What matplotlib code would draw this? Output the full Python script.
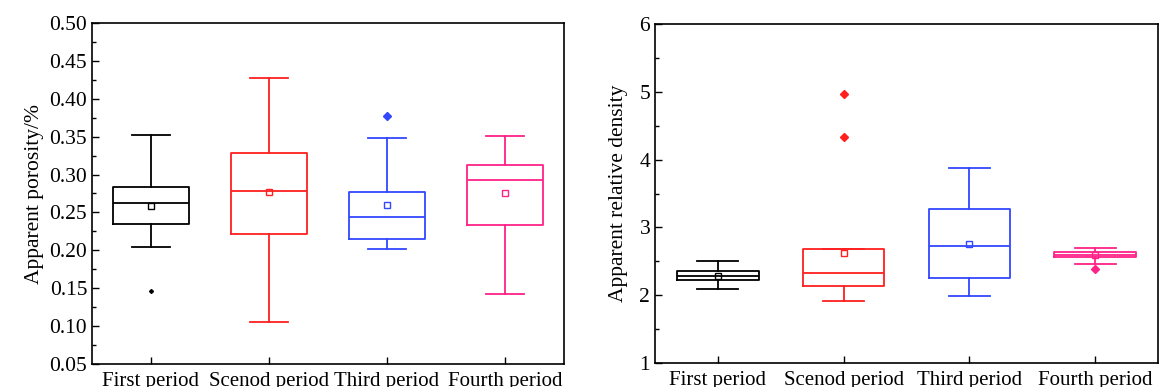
import matplotlib
matplotlib.use("Agg")
import matplotlib.pyplot as plt
from matplotlib.ticker import MultipleLocator

plt.rcParams['font.family'] = ['Liberation Serif', 'DejaVu Serif']

categories = ["First period", "Scenod period", "Third period", "Fourth period"]
colors = ["#000000", "#FF2020", "#3347FF", "#FF2288"]

# Apparent porosity: whislo, q1, median, q3, whishi, mean, outliers
por_whislo = [0.205, 0.106, 0.202, 0.142]
por_q1 = [0.235, 0.222, 0.215, 0.233]
por_med = [0.263, 0.278, 0.244, 0.293]
por_q3 = [0.283, 0.328, 0.277, 0.312]
por_whishi = [0.352, 0.428, 0.348, 0.351]
por_mean = [0.258, 0.277, 0.260, 0.276]
por_fliers = [[0.146], [], [0.377], []]

# Apparent relative density
den_whislo = [2.09, 1.92, 1.99, 2.46]
den_q1 = [2.22, 2.13, 2.26, 2.57]
den_med = [2.29, 2.33, 2.72, 2.60]
den_q3 = [2.35, 2.68, 3.27, 2.64]
den_whishi = [2.50, 2.68, 3.88, 2.69]
den_mean = [2.29, 2.62, 2.76, 2.60]
den_fliers = [[], [4.97, 4.33], [], [2.39]]


def make_stats(lo, q1, med, q3, hi, mean, fl):
    out = []
    for i in range(len(lo)):
        out.append(dict(whislo=lo[i], q1=q1[i], med=med[i], q3=q3[i],
                        whishi=hi[i], mean=mean[i], fliers=fl[i]))
    return out


def draw(ax, stats, flier_sizes):
    for i, st in enumerate(stats):
        c = colors[i]
        ax.bxp([st], positions=[i + 1], widths=0.65, showmeans=True,
               showfliers=True, shownotches=False,
               boxprops=dict(color=c, linewidth=1.3),
               whiskerprops=dict(color=c, linewidth=1.3),
               capprops=dict(color=c, linewidth=1.3),
               medianprops=dict(color=c, linewidth=1.3),
               meanprops=dict(marker='s', markerfacecolor='none',
                              markeredgecolor=c, markersize=4,
                              markeredgewidth=1.0),
               flierprops=dict(marker='D', markerfacecolor=c,
                               markeredgecolor=c, markersize=flier_sizes[i],
                               linestyle='none'),
               manage_ticks=False)
    ax.set_xlim(0.5, 4.5)
    ax.set_xticks([1, 2, 3, 4])
    ax.set_xticklabels(categories)
    ax.tick_params(axis='both', direction='in', length=5, width=1)
    ax.tick_params(axis='y', labelsize=15.5)
    ax.tick_params(axis='x', labelsize=15, pad=6)
    ax.tick_params(axis='y', which='minor', direction='in', length=3, width=1)
    for s in ax.spines.values():
        s.set_linewidth(1.2)


fig = plt.figure(figsize=(11.59, 3.87), dpi=100)
ax1 = fig.add_axes([92 / 1159, 23 / 387, 472 / 1159, 341 / 387])
ax2 = fig.add_axes([655 / 1159, 24 / 387, 503 / 1159, 339 / 387])

draw(ax1, make_stats(por_whislo, por_q1, por_med, por_q3, por_whishi, por_mean, por_fliers),
     [2, 4, 4, 4])
ax1.set_ylim(0.05, 0.50)
ax1.yaxis.set_major_locator(MultipleLocator(0.05))
ax1.yaxis.set_minor_locator(MultipleLocator(0.025))
ax1.set_yticklabels([f"{v:.2f}" for v in ax1.get_yticks()])
ax1.set_ylabel("Apparent porosity/%", fontsize=15.5, labelpad=4)

draw(ax2, make_stats(den_whislo, den_q1, den_med, den_q3, den_whishi, den_mean, den_fliers),
     [4, 4, 4, 4])
ax2.set_ylim(1, 6)
ax2.yaxis.set_major_locator(MultipleLocator(1))
ax2.yaxis.set_minor_locator(MultipleLocator(0.5))
ax2.set_ylabel("Apparent relative density", fontsize=15.5, labelpad=8)

fig.savefig("out.png", dpi=100)
